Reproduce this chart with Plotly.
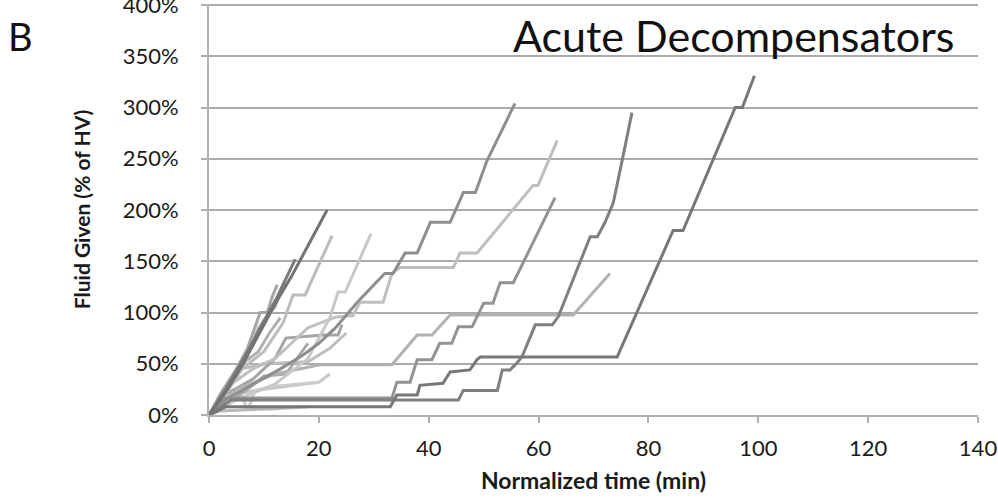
import plotly.graph_objects as go

# Each series: x = normalized time (min), y = fluid given (% of HV)
s_dark_long_x = [0, 3, 33, 34.2, 37.9, 38.4, 42.6, 43.9, 47.5, 48.8, 49.4, 74.3, 84.5, 86.3, 95.8, 97.1, 99.3]
s_dark_long_y = [0, 8, 8, 19.5, 19.5, 29, 31, 42, 44, 54, 56.5, 56.5, 180, 180, 300, 300, 331]

s_dark77_x = [0, 4, 45.4, 46.3, 52.5, 53.4, 54.8, 56.1, 57, 59.4, 62.5, 63.6, 69.4, 70.7, 72.1, 73.6, 75.2, 77]
s_dark77_y = [0, 14.6, 14.6, 24, 24, 44, 44, 51, 57, 88, 88, 96, 174, 174, 188, 207, 248, 295]

s_med63_x = [0, 3, 33.3, 34.2, 36.6, 37.9, 40.6, 42, 44.2, 45.4, 47.9, 50, 51.7, 53, 55.4, 63]
s_med63_y = [0, 16.5, 16.5, 32, 32, 54, 54, 70, 70, 86, 86, 109, 109, 129, 129, 212]

s_med56_x = [0, 3, 8, 13, 17, 20, 23, 27, 32, 33.5, 35.7, 37.9, 40.3, 43.9, 46.3, 48.5, 50.6, 55.7]
s_med56_y = [0, 15, 30, 45, 58, 70, 85, 110, 138, 138, 158, 158, 188, 188, 217, 217, 248, 304]

s_light73_x = [0, 5, 12, 20.2, 33.3, 37.9, 40.6, 43.9, 66.3, 73]
s_light73_y = [0, 25, 40, 49, 49, 78, 78, 97.5, 97.5, 138]

s_light63_x = [0, 4, 8, 12, 15, 18, 23, 26.2, 27.5, 31.7, 33.3, 34.8, 44.5, 45.7, 48.8, 59, 59.9, 63.4]
s_light63_y = [0, 30, 45, 55, 70, 85, 95.5, 97, 110, 110, 138, 144, 144, 158, 158, 224, 224, 268]

s_dark21_x = [0, 3, 6, 9, 12, 15, 18, 21.5]
s_dark21_y = [0, 22, 48, 78, 108, 135, 165, 200]

s_dark16_x = [0, 3, 7, 10, 12.4, 15.7]
s_dark16_y = [0, 25, 62, 92, 115, 152]

s_light22_x = [0, 3, 6, 10, 13.5, 15.3, 17.5, 22.4]
s_light22_y = [0, 20, 45, 62, 90, 117, 117, 175]

s_light30_x = [0, 5, 12, 18, 20, 22, 23.5, 24.8, 29.5]
s_light30_y = [0, 15, 30, 55, 75, 95, 120, 120, 177]

s_stair12_x = [0, 2, 5, 7, 8, 9.3, 10.6, 11.5, 12.4]
s_stair12_y = [0, 20, 45, 65, 80, 100, 100, 115, 127]

s_stair14_x = [0, 3, 6, 8, 9, 11, 12, 13.8]
s_stair14_y = [0, 25, 55, 72, 85, 100, 105, 131]

s_mid24_x = [0, 3, 8, 12, 14, 20.8, 23.5, 24.2]
s_mid24_y = [0, 20, 35, 55, 75, 78, 78, 88]

s_flat50_x = [0, 3, 6, 10, 18, 22, 25]
s_flat50_y = [0, 25, 45, 50, 52, 65, 80]

s_flat30_x = [0, 4, 10, 17, 20, 22]
s_flat30_y = [0, 20, 25, 30, 32, 40]

s_vshape_x = [0, 5.3, 7.1, 8.4, 12, 20]
s_vshape_y = [0, 24, 5, 24, 28, 32]

s_low_x = [0, 2, 6, 12, 18]
s_low_y = [0, 4, 5, 6, 8]

s_mid13_x = [0, 2, 4, 6, 9, 11, 13]
s_mid13_y = [0, 15, 30, 50, 62, 80, 95]

s_mid18_x = [0, 3, 7, 10, 14, 16, 18]
s_mid18_y = [0, 10, 25, 38, 40, 55, 70]

series = [
    ("#c6c6c6", s_flat30_x, s_flat30_y),
    ("#cccccc", s_vshape_x, s_vshape_y),
    ("#b8b8b8", s_low_x, s_low_y),
    ("#bdbdbd", s_flat50_x, s_flat50_y),
    ("#a9a9a9", s_mid18_x, s_mid18_y),
    ("#b0b0b0", s_mid13_x, s_mid13_y),
    ("#a4a4a4", s_mid24_x, s_mid24_y),
    ("#b2b2b2", s_light73_x, s_light73_y),
    ("#bfbfbf", s_light63_x, s_light63_y),
    ("#c8c8c8", s_light30_x, s_light30_y),
    ("#bcbcbc", s_light22_x, s_light22_y),
    ("#a5a5a5", s_stair12_x, s_stair12_y),
    ("#b5b5b5", s_stair14_x, s_stair14_y),
    ("#939393", s_med63_x, s_med63_y),
    ("#8e8e8e", s_med56_x, s_med56_y),
    ("#7f7f7f", s_dark77_x, s_dark77_y),
    ("#777777", s_dark_long_x, s_dark_long_y),
    ("#7a7a7a", s_dark16_x, s_dark16_y),
    ("#737373", s_dark21_x, s_dark21_y),
]

x_ticks = [0, 20, 40, 60, 80, 100, 120, 140]
y_ticks = [0, 50, 100, 150, 200, 250, 300, 350, 400]
y_tick_labels = [f"{v}%" for v in y_ticks]

fig = go.Figure()
for color, xs, ys in series:
    fig.add_trace(go.Scatter(x=xs, y=ys, mode="lines",
                             line=dict(color=color, width=3),
                             showlegend=False, hoverinfo="skip"))

font_main = "Lato, 'Open Sans', sans-serif"
axis_col = "#b0b0b0"
fig.update_layout(
    width=998, height=501,
    margin=dict(l=209, r=20, t=4, b=86, autoexpand=False),
    paper_bgcolor="white", plot_bgcolor="white",
    font=dict(family=font_main, color="#1a1a1a"),
    xaxis=dict(range=[0, 140], tickvals=x_ticks, ticktext=[str(v) for v in x_ticks],
               automargin=False,
               showgrid=False, zeroline=False, showline=True, linecolor=axis_col, linewidth=2,
               ticks="outside", ticklen=6, tickcolor=axis_col, tickwidth=2,
               tickfont=dict(size=22, color="#1a1a1a"), ticklabelstandoff=7,
               ticklabeloverflow="allow",
               title=dict(text="<b>Normalized time (min)</b>", font=dict(size=23, color="#1a1a1a"), standoff=12)),
    yaxis=dict(range=[0, 401], tickvals=y_ticks, ticktext=y_tick_labels,
               automargin=False,
               showgrid=True, gridcolor="#ababab", gridwidth=2, zeroline=False,
               showline=True, linecolor=axis_col, linewidth=2,
               ticks="outside", ticklen=6, tickcolor=axis_col, tickwidth=2,
               tickfont=dict(size=22, color="#1a1a1a"), ticklabelstandoff=18,
               ticklabeloverflow="allow",
               title=dict(text="<b>Fluid Given (% of HV)</b>", font=dict(size=21, color="#1a1a1a"), standoff=26)),
    annotations=[
        dict(text="Acute Decompensators", xref="paper", yref="paper", x=(733 - 209) / 769, y=(415 - 35) / 411,
             xanchor="center", yanchor="middle", showarrow=False,
             font=dict(size=43, color="#111111", family=font_main)),
        dict(text="B", xref="paper", yref="paper", x=(20 - 209) / 769, y=(415 - 36) / 411, xanchor="center",
             yanchor="middle", showarrow=False, font=dict(size=38, color="#111111", family=font_main)),
    ],
)

fig.write_html("out.html", config={"displayModeBar": False},
               post_script="document.body.style.margin='0';")
